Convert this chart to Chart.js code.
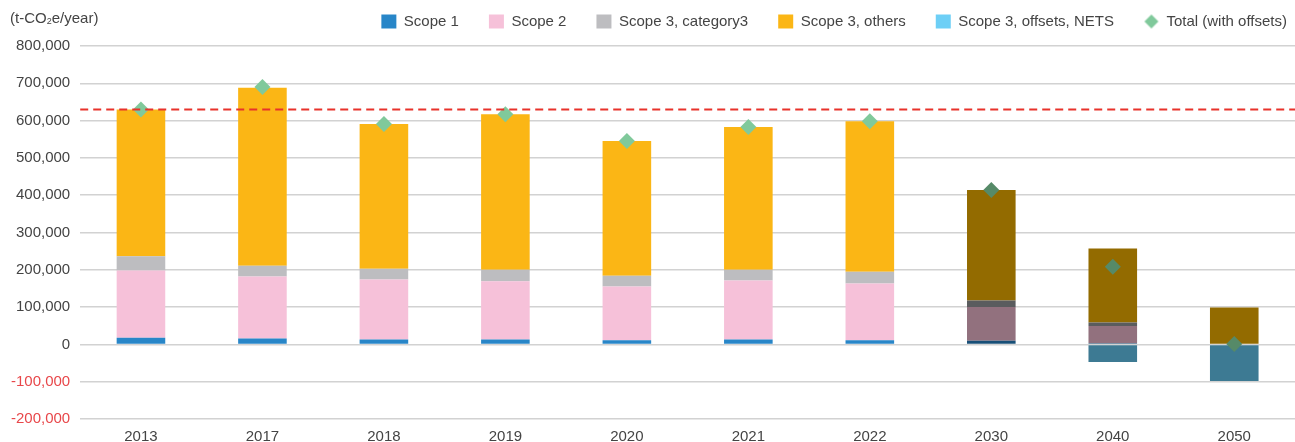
<!DOCTYPE html>
<html>
<head>
<meta charset="utf-8">
<script src="https://cdn.jsdelivr.net/npm/chart.js@4"></script>
<style>
  body { margin: 0; background: #fff; }
  #wrap { position: relative; width: 1295px; height: 442px; }
  #unit { position: absolute; left: 10px; top: 9px; font: 15px "Liberation Sans", Arial, sans-serif; color: #444; }
  #unit sub { font-size: 9px; vertical-align: -1px; }
</style>
</head>
<body>
<div id="wrap">
  <canvas id="emissions" width="1295" height="442"></canvas>
  <div id="unit">(t-CO<sub>2</sub>e/year)</div>
</div>
<script>
var years = ["2013", "2017", "2018", "2019", "2020", "2021", "2022", "2030", "2040", "2050"];

var scope1 = [18000, 16000, 13000, 13000, 11000, 13000, 11000, 10000, 3000, 0];
var scope2 = [180000, 166000, 161000, 156000, 144000, 158000, 152000, 90000, 46000, 0];
var scope3Cat3 = [38000, 29000, 29000, 31000, 29000, 29000, 32000, 18000, 10000, 0];
var scope3Others = [394000, 477000, 388000, 417000, 361000, 383000, 403000, 296000, 198000, 99000];
var scope3Offsets = [0, 0, 0, 0, 0, 0, 0, 0, -47000, -98000];
var totalWithOffsets = [630000, 690000, 591000, 617000, 545000, 583000, 598000, 414000, 208000, 1000];

var baseYearLevel = 630000;

// first 7 years are actuals, the rest are targets (drawn darker)
var actualCount = 7;

function colorsFor(normal, dark) {
    return years.map(function (y, i) { return i < actualCount ? normal : dark; });
}

var font = { family: "'Liberation Sans', Arial, sans-serif", size: 15 };

// small square diamond for the legend entry of the total
var legendDiamond = document.createElement('canvas');
legendDiamond.width = 16;
legendDiamond.height = 16;
var dctx = legendDiamond.getContext('2d');
dctx.fillStyle = '#80c99b';
dctx.beginPath();
dctx.moveTo(8, 1);
dctx.lineTo(15, 8);
dctx.lineTo(8, 15);
dctx.lineTo(1, 8);
dctx.closePath();
dctx.fill();

var baseLinePlugin = {
    id: 'baseLine',
    beforeLayout: function (chart) {
        // leave a bit more room under the legend
        var lg = chart.legend;
        if (lg && !lg._extraRoom) {
            var fit = lg.fit;
            lg.fit = function () { fit.call(this); this.height += 7; };
            lg._extraRoom = true;
        }
    },
    afterDatasetsDraw: function (chart) {
        var ctx = chart.ctx;
        var area = chart.chartArea;
        var y = chart.scales.y.getPixelForValue(baseYearLevel);
        ctx.save();
        ctx.strokeStyle = '#e8322b';
        ctx.lineWidth = 2;
        ctx.setLineDash([8, 5]);
        ctx.beginPath();
        ctx.moveTo(area.left, y);
        ctx.lineTo(area.right, y);
        ctx.stroke();
        ctx.restore();
    }
};

var chartCtx = document.getElementById("emissions").getContext('2d');
var emissionsChart = new Chart(chartCtx, {
    type: 'bar',
    data: {
        labels: years,
        datasets: [{
            label: 'Scope 1',
            data: scope1,
            backgroundColor: colorsFor('#2886c8', '#184f77'),
            pointStyle: 'rect',
            order: 1
        }, {
            label: 'Scope 2',
            data: scope2,
            backgroundColor: colorsFor('#f6c1d9', '#92717e'),
            pointStyle: 'rect',
            order: 1
        }, {
            label: 'Scope 3, category3',
            data: scope3Cat3,
            backgroundColor: colorsFor('#bdbdc0', '#5a5c5e'),
            pointStyle: 'rect',
            order: 1
        }, {
            label: 'Scope 3, others',
            data: scope3Others,
            backgroundColor: colorsFor('#fbb615', '#936b00'),
            pointStyle: 'rect',
            order: 1
        }, {
            label: 'Scope 3, offsets, NETS',
            data: scope3Offsets,
            backgroundColor: colorsFor('#6dcff6', '#3d7a93'),
            pointStyle: 'rect',
            order: 1
        }, {
            type: 'line',
            label: 'Total (with offsets)',
            data: totalWithOffsets,
            stack: 'total',
            showLine: false,
            pointStyle: 'rectRot',
            pointRadius: 8,
            pointHoverRadius: 8,
            pointBorderWidth: 0,
            backgroundColor: '#80c99b',
            borderColor: '#80c99b',
            pointBackgroundColor: colorsFor('#80c99b', '#568a68'),
            order: 0
        }]
    },
    options: {
        responsive: false,
        animation: false,
        layout: { autoPadding: false, padding: { top: -16, right: -22, left: 1, bottom: -5 } },
        datasets: {
            bar: { categoryPercentage: 0.8, barPercentage: 0.5 }
        },
        scales: {
            x: {
                stacked: true,
                grid: { display: false },
                border: { display: false },
                ticks: { color: '#444', font: font, padding: 1 },
                afterFit: function (scale) {
                    scale.paddingLeft = 0;
                    scale.paddingRight = 0;
                }
            },
            y: {
                stacked: true,
                min: -200000,
                max: 800000,
                border: { display: false },
                grid: { color: '#d2d2d2', lineWidth: 1.5, drawTicks: false },
                ticks: {
                    stepSize: 100000,
                    padding: 10,
                    font: font,
                    color: function (c) { return c.tick.value < 0 ? '#e8474a' : '#444'; },
                    callback: function (v) { return v.toLocaleString('en-US'); }
                }
            }
        },
        plugins: {
            legend: {
                position: 'top',
                align: 'end',
                labels: {
                    usePointStyle: true,
                    boxWidth: 14,
                    boxHeight: 14,
                    pointStyleWidth: 15,
                    padding: 30,
                    color: '#444',
                    font: font,
                    sort: function (a, b) { return a.datasetIndex - b.datasetIndex; },
                    generateLabels: function (chart) {
                        var items = Chart.defaults.plugins.legend.labels.generateLabels(chart);
                        items.forEach(function (it) {
                            if (it.datasetIndex === 5) it.pointStyle = legendDiamond;
                        });
                        return items;
                    }
                }
            },
            tooltip: { enabled: false }
        }
    },
    plugins: [baseLinePlugin]
});
</script>
</body>
</html>
